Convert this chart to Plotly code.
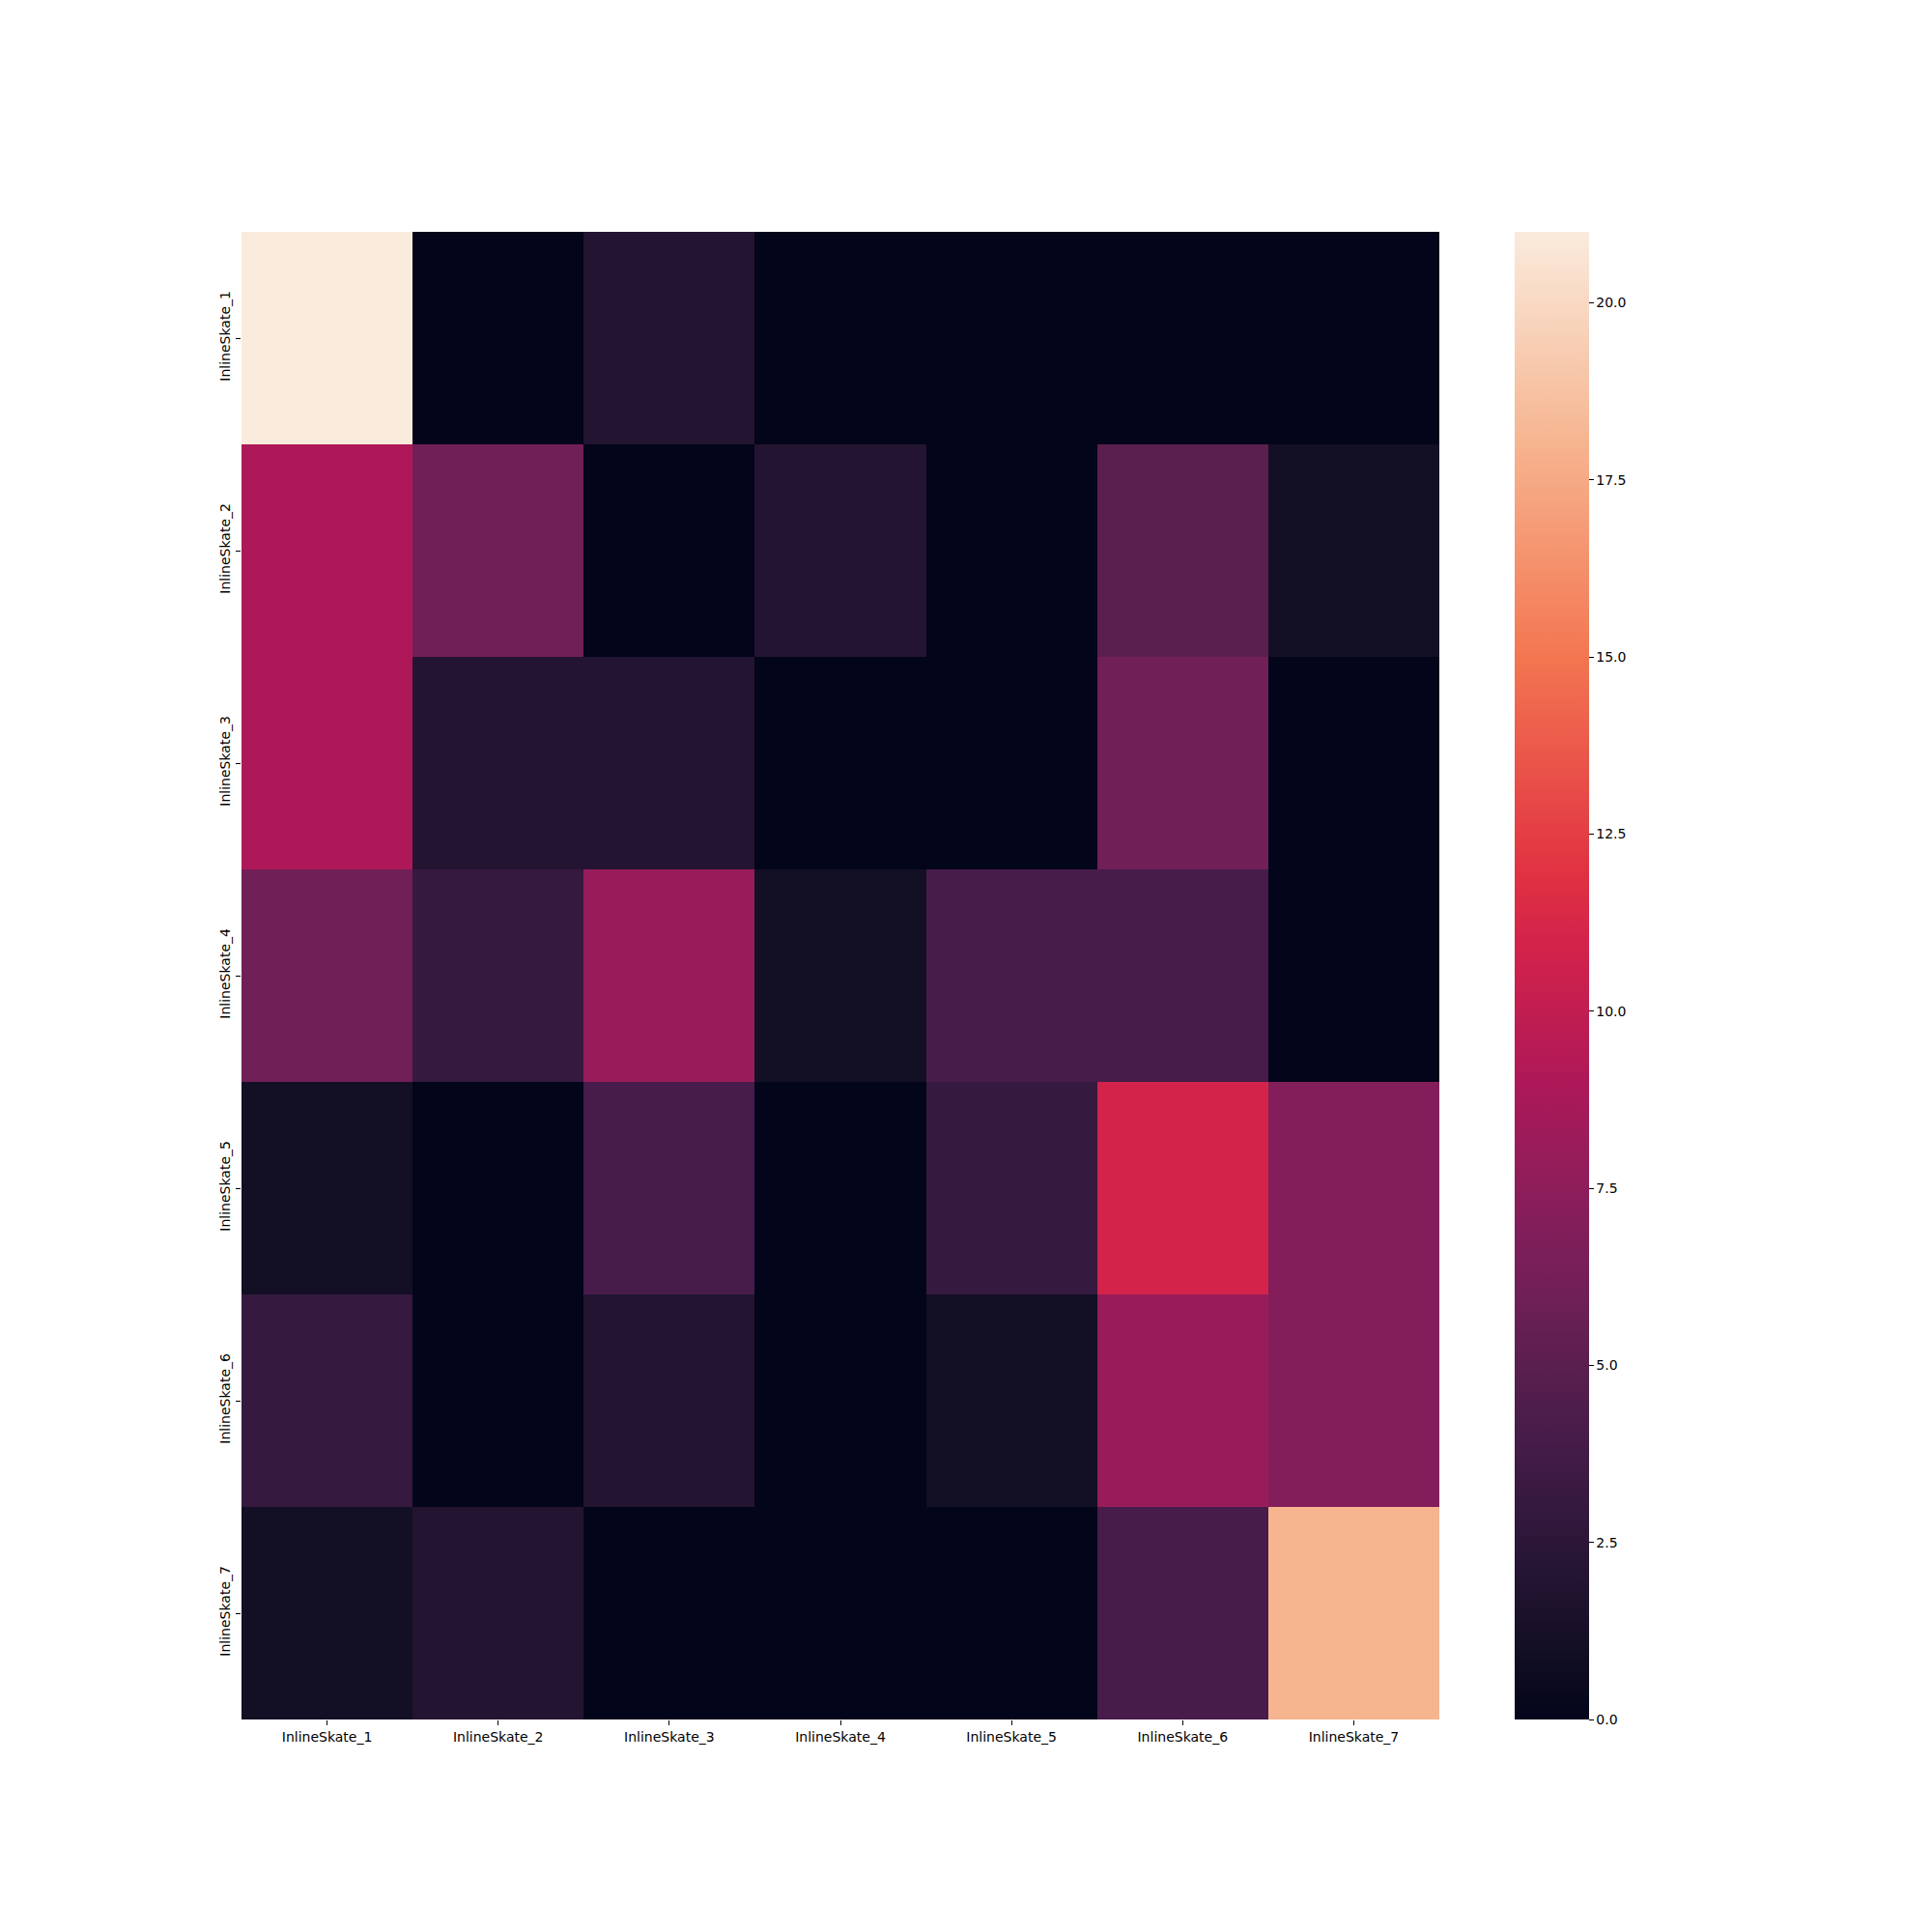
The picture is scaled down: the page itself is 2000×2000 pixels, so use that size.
import plotly.graph_objects as go

labels = ["InlineSkate_1", "InlineSkate_2", "InlineSkate_3", "InlineSkate_4",
          "InlineSkate_5", "InlineSkate_6", "InlineSkate_7"]

row_1 = [21, 0, 2, 0, 0, 0, 0]
row_2 = [9, 6, 0, 2, 0, 5, 1]
row_3 = [9, 2, 2, 0, 0, 6, 0]
row_4 = [6, 3, 8, 1, 4, 4, 0]
row_5 = [1, 0, 4, 0, 3, 11, 7]
row_6 = [3, 0, 2, 0, 1, 8, 7]
row_7 = [1, 2, 0, 0, 0, 4, 18]
z = [row_1, row_2, row_3, row_4, row_5, row_6, row_7]

cbar_ticks = [0, 2.5, 5, 7.5, 10, 12.5, 15, 17.5, 20]

# approximation of seaborn "rocket" colormap (fraction, colour)
rocket_pos = [0.0, 1/21, 2/21, 3/21, 4/21, 5/21, 6/21, 7/21, 8/21, 9/21,
              11/21, 4/7, 5/7, 6/7, 1.0]
rocket_col = ["#03051A", "#130F24", "#231432", "#35193E", "#471C4A", "#5A1F4E",
              "#701F57", "#831E5A", "#981C5A", "#AE1858", "#D4234A", "#E13342",
              "#F37651", "#F6B48F", "#FAEBDD"]
rocket = [[p, c] for p, c in zip(rocket_pos, rocket_col)]

font = dict(family="DejaVu Sans", size=14, color="black")

fig = go.Figure(go.Heatmap(
    z=z, x=labels, y=labels, colorscale=rocket, zmin=0, zmax=21,
    colorbar=dict(
        x=(1568 - 250) / 1550, xanchor="left", xpad=0, ypad=0,
        y=0.5, yanchor="middle", len=1, lenmode="fraction",
        thickness=77, thicknessmode="pixels", outlinewidth=0,
        tickvals=cbar_ticks, ticktext=[f"{v:.1f}" for v in cbar_ticks],
        ticks="outside", ticklen=5, tickwidth=1, tickcolor="black",
        tickfont=font,
    ),
))

fig.update_layout(
    width=2000, height=2000,
    margin=dict(l=250, r=200, t=240, b=220),
    plot_bgcolor="white", paper_bgcolor="white",
    font=font,
    xaxis=dict(domain=[0, 1240 / 1550], ticks="outside", ticklen=5, tickwidth=1,
               tickcolor="black", showgrid=False, zeroline=False, showline=False,
               tickfont=font),
    yaxis=dict(autorange="reversed", ticks="outside", ticklen=5, tickwidth=1,
               tickcolor="black", showgrid=False, zeroline=False, showline=False,
               tickangle=-90, tickfont=font),
)

fig.write_html("out.html")
